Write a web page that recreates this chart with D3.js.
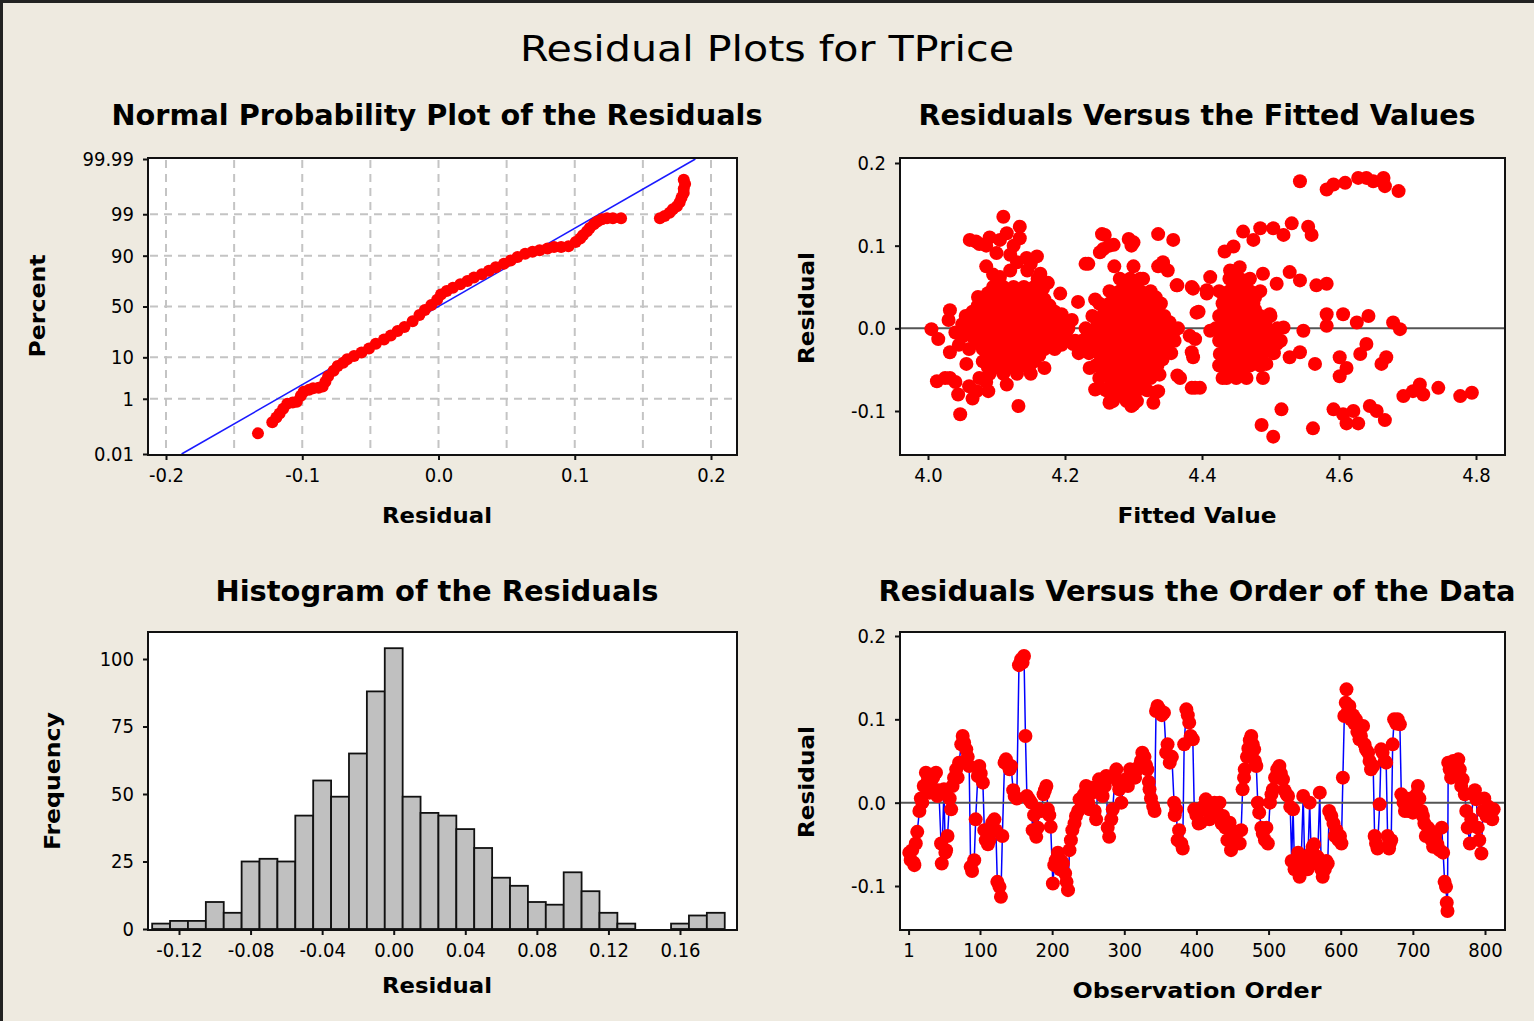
<!DOCTYPE html>
<html>
<head>
<meta charset="utf-8">
<script src="https://cdn.jsdelivr.net/npm/d3@7"></script>
<style>
  body { margin: 0; background: #EEEAE0; }
  svg { display: block; }
  text { font-family: "DejaVu Sans Condensed", "DejaVu Sans", Tahoma, sans-serif; fill: #000; }
</style>
</head>
<body>
<div id="chart"></div>
<script>
// data

// normal probability plot: residual, percent
let probResidual = [-0.1325, -0.122, -0.119, -0.1166, -0.114, -0.111, -0.107, -0.104, -0.101, -0.099, -0.095, -0.092, -0.088, -0.085, -0.083, -0.081, -0.077, -0.074, -0.070, -0.067, -0.062, -0.0565, -0.051, -0.046, -0.040, -0.035, -0.030, -0.025, -0.019, -0.014, -0.010, -0.0053, -0.001, 0.0018, 0.006, 0.0106, 0.016, 0.0212, 0.026, 0.0318, 0.037, 0.042, 0.048, 0.053, 0.058, 0.0636, 0.069, 0.0742, 0.080, 0.0848, 0.090, 0.0954, 0.1007, 0.104, 0.106, 0.109, 0.111, 0.114, 0.1166, 0.120, 0.1237, 0.128, 0.134, 0.1625, 0.166, 0.1696, 0.172, 0.175, 0.177, 0.1784, 0.180, 0.180, 0.181, 0.180];
let probPercent = [0.069, 0.175, 0.256, 0.347, 0.494, 0.714, 0.776, 0.82, 1.22, 1.58, 1.79, 1.97, 2.02, 2.17, 2.87, 3.92, 5.26, 6.68, 7.78, 9.18, 10.6, 12.3, 14.5, 17.4, 20.3, 23.3, 26.8, 30.3, 35.6, 41.5, 46.4, 51.6, 56.7, 61.8, 65.2, 68.1, 71.2, 73.9, 76.7, 79.2, 81.6, 83.9, 86.0, 87.7, 89.4, 90.8, 91.6, 92.2, 92.8, 93.3, 93.3, 93.6, 94.8, 95.7, 96.4, 97.1, 97.6, 98.1, 98.4, 98.6, 98.7, 98.7, 98.7, 98.7, 98.87, 99.09, 99.29, 99.43, 99.57, 99.70, 99.79, 99.85, 99.90, 99.93];
let fitMean = 0.0, fitSigma = 0.0507;
let probTicks = [0.01, 1, 10, 50, 90, 99, 99.99];
let probTickLabels = ["0.01", "1", "10", "50", "90", "99", "99.99"];
let probGridPct = [1, 10, 50, 90, 99];
let probGridRes = [-0.2, -0.15, -0.1, -0.05, 0.0, 0.05, 0.1, 0.15, 0.2];
let probXTicks = [-0.2, -0.1, 0.0, 0.1, 0.2];

// residuals versus fitted values: [fitted, residual]
let fittedPoints = [
  [4.005,-0.001],[4.015,-0.013],[4.032,0.022],[4.032,-0.029],[4.013,-0.064],[4.032,-0.060],[4.044,-0.080],[4.047,-0.104],
  [4.056,-0.043],[4.071,-0.076],[4.061,0.107],[4.073,0.038],[4.088,-0.076],[4.105,0.107],[4.110,0.135],[4.134,0.123],
  [4.134,0.109],[4.100,0.091],[4.120,0.089],[4.144,0.085],[4.159,0.087],[4.164,0.066],[4.168,0.048],[4.105,0.062],
  [4.115,-0.068],[4.132,-0.094],[4.170,-0.048],[4.193,0.042],[4.219,0.032],[4.195,0.017],[4.202,-0.011],[4.212,-0.019],
  [4.227,-0.019],[4.234,0.078],[4.258,0.113],[4.271,0.101],[4.256,0.096],[4.300,0.104],[4.336,0.114],[4.358,0.107],
  [4.343,0.078],[4.363,0.052],[4.387,0.048],[4.395,0.020],[4.407,0.046],[4.390,-0.013],[4.387,-0.035],[4.368,-0.060],
  [4.390,-0.072],[4.336,-0.076],[4.338,-0.056],[4.300,-0.092],[4.266,-0.088],[4.251,-0.072],[4.236,-0.048],
  [4.075,0.102],[4.090,0.110],[4.125,0.100],[4.145,0.070],[4.085,0.075],
  [4.07,0.105],[4.085,0.100],[4.115,0.115],[4.13,0.080],[4.15,0.078],[4.16,0.060],[4.175,0.055],[4.12,0.070],[4.095,0.065],
  // left cluster
  [4.095,0.05],[4.11,0.05],[4.125,0.05],[4.14,0.05],[4.155,0.05],
  [4.08,0.035],[4.095,0.035],[4.11,0.035],[4.125,0.035],[4.14,0.035],[4.155,0.035],[4.17,0.035],
  [4.065,0.02],[4.08,0.02],[4.095,0.02],[4.11,0.02],[4.125,0.02],[4.14,0.02],[4.155,0.02],[4.17,0.02],[4.185,0.02],
  [4.05,0.005],[4.065,0.005],[4.08,0.005],[4.095,0.005],[4.11,0.005],[4.125,0.005],[4.14,0.005],[4.155,0.005],[4.17,0.005],[4.185,0.005],[4.2,0.005],
  [4.05,-0.01],[4.065,-0.01],[4.08,-0.01],[4.095,-0.01],[4.11,-0.01],[4.125,-0.01],[4.14,-0.01],[4.155,-0.01],[4.17,-0.01],[4.185,-0.01],[4.2,-0.01],
  [4.06,-0.025],[4.08,-0.025],[4.095,-0.025],[4.11,-0.025],[4.125,-0.025],[4.14,-0.025],[4.155,-0.025],[4.17,-0.025],[4.185,-0.025],
  [4.08,-0.04],[4.095,-0.04],[4.11,-0.04],[4.125,-0.04],[4.14,-0.04],[4.155,-0.04],
  [4.09,-0.055],[4.11,-0.055],[4.13,-0.055],[4.15,-0.055],
  [4.03,0.01],[4.04,-0.005],[4.055,0.015],[4.045,-0.02],[4.025,-0.06],[4.04,-0.065],[4.06,-0.07],[4.075,-0.06],[4.065,-0.085],[4.085,-0.065],
  [4.205,0.0],[4.215,-0.015],[4.22,-0.03],[4.21,0.01],[4.195,-0.02],
  // middle cluster
  [4.23,0.078],[4.254,0.114],[4.265,0.100],[4.251,0.092],[4.297,0.100],[4.293,0.108],[4.343,0.080],[4.350,0.070],
  [4.336,0.075],[4.272,0.075],[4.300,0.075],[4.314,0.060],[4.244,0.035],[4.364,0.052],[4.385,0.050],[4.392,0.019],
  [4.382,-0.009],[4.385,-0.029],[4.364,-0.057],[4.385,-0.072],[4.332,-0.078],[4.329,-0.090],[4.297,-0.094],[4.265,-0.090],[4.244,-0.074],
  [4.28,0.06],[4.295,0.06],[4.31,0.06],
  [4.265,0.045],[4.28,0.045],[4.295,0.045],[4.31,0.045],[4.325,0.045],
  [4.25,0.03],[4.265,0.03],[4.28,0.03],[4.295,0.03],[4.31,0.03],[4.325,0.03],[4.34,0.03],
  [4.24,0.015],[4.255,0.015],[4.27,0.015],[4.285,0.015],[4.30,0.015],[4.315,0.015],[4.33,0.015],[4.345,0.015],
  [4.23,0.0],[4.245,0.0],[4.26,0.0],[4.275,0.0],[4.29,0.0],[4.305,0.0],[4.32,0.0],[4.335,0.0],[4.35,0.0],[4.365,0.0],
  [4.225,-0.015],[4.24,-0.015],[4.255,-0.015],[4.27,-0.015],[4.285,-0.015],[4.30,-0.015],[4.315,-0.015],[4.33,-0.015],[4.345,-0.015],[4.36,-0.015],
  [4.235,-0.03],[4.25,-0.03],[4.265,-0.03],[4.28,-0.03],[4.295,-0.03],[4.31,-0.03],[4.325,-0.03],[4.34,-0.03],[4.355,-0.03],
  [4.245,-0.045],[4.26,-0.045],[4.275,-0.045],[4.29,-0.045],[4.305,-0.045],[4.32,-0.045],[4.335,-0.045],
  [4.25,-0.06],[4.265,-0.06],[4.28,-0.06],[4.295,-0.06],[4.31,-0.06],[4.325,-0.06],
  [4.26,-0.075],[4.275,-0.075],[4.29,-0.075],[4.305,-0.075],[4.32,-0.075],
  [4.27,-0.088],[4.29,-0.088],[4.305,-0.088],
  // right part
  [4.543,0.178],[4.582,0.168],[4.592,0.174],[4.609,0.176],[4.628,0.182],[4.640,0.182],[4.650,0.178],[4.665,0.182],
  [4.667,0.172],[4.687,0.166],[4.433,0.093],[4.446,0.099],[4.460,0.117],[4.475,0.107],[4.485,0.121],[4.504,0.121],
  [4.519,0.113],[4.531,0.127],[4.555,0.123],[4.560,0.113],[4.412,0.062],[4.407,0.042],[4.441,0.070],[4.455,0.074],
  [4.465,0.058],[4.446,0.046],[4.489,0.066],[4.509,0.054],[4.528,0.068],[4.543,0.058],[4.567,0.052],[4.582,0.054],
  [4.436,0.030],[4.475,0.022],[4.499,0.017],[4.412,-0.003],[4.431,-0.011],[4.451,0.001],[4.470,-0.003],[4.489,-0.007],
  [4.519,0.001],[4.548,-0.003],[4.426,-0.031],[4.446,-0.035],[4.465,-0.027],[4.485,-0.039],[4.509,-0.019],[4.528,-0.035],
  [4.543,-0.029],[4.436,-0.060],[4.455,-0.052],[4.489,-0.060],[4.494,-0.043],[4.397,-0.072],[4.582,0.017],[4.606,0.017],
  [4.626,0.007],[4.643,0.015],[4.582,0.003],[4.679,0.007],[4.689,-0.001],[4.640,-0.019],[4.631,-0.031],[4.601,-0.035],
  [4.611,-0.048],[4.601,-0.058],[4.565,-0.043],[4.669,-0.035],[4.662,-0.043],[4.694,-0.082],[4.708,-0.076],[4.718,-0.068],
  [4.723,-0.080],[4.745,-0.072],[4.777,-0.082],[4.794,-0.078],[4.516,-0.098],[4.487,-0.117],[4.504,-0.131],[4.562,-0.121],
  [4.592,-0.098],[4.606,-0.104],[4.621,-0.100],[4.611,-0.115],[4.628,-0.115],[4.645,-0.094],[4.655,-0.100],[4.667,-0.111],
  [4.44,0.06],[4.455,0.06],[4.47,0.06],
  [4.425,0.045],[4.44,0.045],[4.455,0.045],[4.47,0.045],[4.485,0.045],
  [4.43,0.03],[4.445,0.03],[4.46,0.03],[4.475,0.03],
  [4.425,0.015],[4.44,0.015],[4.455,0.015],[4.47,0.015],[4.485,0.015],[4.5,0.015],
  [4.42,0.0],[4.435,0.0],[4.45,0.0],[4.465,0.0],[4.48,0.0],[4.495,0.0],[4.51,0.0],
  [4.425,-0.015],[4.44,-0.015],[4.455,-0.015],[4.47,-0.015],[4.485,-0.015],[4.5,-0.015],[4.515,-0.015],
  [4.43,-0.03],[4.445,-0.03],[4.46,-0.03],[4.475,-0.03],[4.49,-0.03],[4.505,-0.03],
  [4.425,-0.045],[4.44,-0.045],[4.455,-0.045],[4.47,-0.045],[4.485,-0.045],
  [4.43,-0.06],[4.45,-0.06],[4.465,-0.06]
];
// extra points inside the three solid masses: [fitted, residual]
let fittedCore = [
  [4.0875,0.0425],[4.1025,0.0425],[4.1175,0.0425],[4.1325,0.0425],[4.1475,0.0425],[4.1625,0.0425],
  [4.0725,0.0275],[4.0875,0.0275],[4.1025,0.0275],[4.1175,0.0275],[4.1325,0.0275],[4.1475,0.0275],[4.1625,0.0275],[4.1775,0.0275],
  [4.0575,0.0125],[4.0725,0.0125],[4.0875,0.0125],[4.1025,0.0125],[4.1175,0.0125],[4.1325,0.0125],[4.1475,0.0125],[4.1625,0.0125],[4.1775,0.0125],[4.1925,0.0125],
  [4.0575,-0.0025],[4.0725,-0.0025],[4.0875,-0.0025],[4.1025,-0.0025],[4.1175,-0.0025],[4.1325,-0.0025],[4.1475,-0.0025],[4.1625,-0.0025],[4.1775,-0.0025],[4.1925,-0.0025],
  [4.0725,-0.0175],[4.0875,-0.0175],[4.1025,-0.0175],[4.1175,-0.0175],[4.1325,-0.0175],[4.1475,-0.0175],[4.1625,-0.0175],[4.1775,-0.0175],
  [4.0875,-0.0325],[4.1025,-0.0325],[4.1175,-0.0325],[4.1325,-0.0325],[4.1475,-0.0325],[4.1625,-0.0325],
  [4.0875,-0.0475],[4.1025,-0.0475],[4.1175,-0.0475],[4.1325,-0.0475],[4.1475,-0.0475],
  [4.2875,0.0525],[4.3025,0.0525],
  [4.2725,0.0375],[4.2875,0.0375],[4.3025,0.0375],[4.3175,0.0375],[4.3325,0.0375],
  [4.2575,0.0225],[4.2725,0.0225],[4.2875,0.0225],[4.3025,0.0225],[4.3175,0.0225],[4.3325,0.0225],
  [4.2475,0.0075],[4.2625,0.0075],[4.2775,0.0075],[4.2925,0.0075],[4.3075,0.0075],[4.3225,0.0075],[4.3375,0.0075],[4.3525,0.0075],
  [4.2375,-0.0075],[4.2525,-0.0075],[4.2675,-0.0075],[4.2825,-0.0075],[4.2975,-0.0075],[4.3125,-0.0075],[4.3275,-0.0075],[4.3425,-0.0075],[4.3575,-0.0075],
  [4.2425,-0.0225],[4.2575,-0.0225],[4.2725,-0.0225],[4.2875,-0.0225],[4.3025,-0.0225],[4.3175,-0.0225],[4.3325,-0.0225],[4.3475,-0.0225],
  [4.2525,-0.0375],[4.2675,-0.0375],[4.2825,-0.0375],[4.2975,-0.0375],[4.3125,-0.0375],[4.3275,-0.0375],[4.3425,-0.0375],
  [4.2575,-0.0525],[4.2725,-0.0525],[4.2875,-0.0525],[4.3025,-0.0525],[4.3175,-0.0525],[4.3325,-0.0525],
  [4.2675,-0.0675],[4.2825,-0.0675],[4.2975,-0.0675],[4.3125,-0.0675],
  [4.28,-0.0815],[4.2975,-0.0815],
  [4.4475,0.0525],[4.4625,0.0525],
  [4.4325,0.0375],[4.4475,0.0375],[4.4625,0.0375],[4.4775,0.0375],
  [4.4325,0.0225],[4.4475,0.0225],[4.4625,0.0225],[4.4775,0.0225],
  [4.4325,0.0075],[4.4475,0.0075],[4.4625,0.0075],[4.4775,0.0075],[4.4925,0.0075],
  [4.4275,-0.0075],[4.4425,-0.0075],[4.4575,-0.0075],[4.4725,-0.0075],[4.4875,-0.0075],[4.5025,-0.0075],
  [4.4375,-0.0225],[4.4525,-0.0225],[4.4675,-0.0225],[4.4825,-0.0225],[4.4975,-0.0225],
  [4.4325,-0.0375],[4.4475,-0.0375],[4.4625,-0.0375],[4.4775,-0.0375],
  [4.4375,-0.0525],[4.4575,-0.0525]
];
let fittedXTicks = [4.0, 4.2, 4.4, 4.6, 4.8];
let residTicks = [-0.1, 0.0, 0.1, 0.2];

// histogram of the residuals: bin centres and counts
let binCentres = [-0.13, -0.12, -0.11, -0.10, -0.09, -0.08, -0.07, -0.06, -0.05, -0.04, -0.03, -0.02, -0.01, 0.00, 0.01, 0.02, 0.03, 0.04, 0.05, 0.06, 0.07, 0.08, 0.09, 0.10, 0.11, 0.12, 0.13, 0.14, 0.15, 0.16, 0.17, 0.18];
let binCounts = [2, 3, 3, 10, 6, 25, 26, 25, 42, 55, 49, 65, 88, 104, 49, 43, 42, 37, 30, 19, 16, 10, 9, 21, 14, 6, 2, 0, 0, 2, 5, 6];
let binWidth = 0.01;
let histXTicks = [-0.12, -0.08, -0.04, 0.00, 0.04, 0.08, 0.12, 0.16];
let histYTicks = [0, 25, 50, 75, 100];

// residuals versus order: [observation, residual]
let orderPoints = [
  [2,-0.060],[4,-0.069],[6,-0.057],[8,-0.072],[9,-0.075],[11,-0.049],[13,-0.035],[16,-0.010],[18,0.005],[20,0],
  [22,0.020],[25,0.036],[28,0.028],[30,0.012],[32,0.020],[35,0.030],[39,0.036],[41,0.008],[43,0.015],[46,-0.049],
  [47,-0.073],[50,0.016],[52,-0.060],[53,-0.057],[55,-0.040],[58,0.005],[60,-0.008],[62,0.020],[64,0.030],[67,0.040],
  [69,0.030],[71,0.048],[74,0.070],[76,0.080],[78,0.072],[81,0.064],[83,0.055],[85,0.044],[87,-0.077],[89,-0.082],
  [92,-0.069],[94,-0.020],[97,0.032],[99,0.044],[101,0.035],[104,0.024],[106,-0.033],[108,-0.045],[111,-0.050],[113,-0.045],
  [115,-0.030],[117,-0.024],[120,-0.020],[122,-0.033],[124,-0.095],[127,-0.101],[129,-0.113],[131,-0.040],[134,0.048],[136,0.052],
  [139,0.045],[141,0.040],[143,0.044],[146,0.015],[148,0.008],[151,0.005],[154,0.165],[157,0.172],[159,0.168],[161,0.176],
  [163,0.080],[165,0.008],[168,0.004],[171,0],[173,-0.033],[175,-0.015],[178,-0.041],[180,-0.030],[182,-0.008],[185,-0.010],
  [188,0.010],[190,0.015],[192,0.020],[194,-0.008],[196,-0.015],[198,-0.029],[201,-0.097],[203,-0.075],[205,-0.069],[208,-0.060],
  [211,-0.080],[213,-0.070],[215,-0.073],[218,-0.085],[220,-0.095],[222,-0.105],[224,-0.057],[226,-0.045],[228,-0.033],[231,-0.025],
  [233,-0.016],[236,-0.010],[238,0.004],[241,-0.005],[244,0.010],[247,0.020],[250,0.000],[252,-0.008],[254,0.018],[256,0.012],
  [259,-0.010],[261,-0.020],[263,0.015],[265,0.028],[268,0.020],[270,0.008],[273,0.020],[275,0.032],[277,-0.030],[279,-0.041],
  [282,-0.020],[284,-0.008],[287,0.030],[289,0.040],[291,0.025],[293,0.016],[296,0.000],[299,0.025],[302,0.028],[305,0.020],
  [308,0.040],[312,0.036],[315,0.030],[318,0.040],[321,0.044],[323,0.050],[325,0.060],[328,0.055],[330,0.045],[332,0.040],
  [334,0.025],[335,0.016],[337,0.005],[340,-0.004],[342,-0.010],[344,0.110],[346,0.116],[349,0.112],[352,0.105],[355,0.108],
  [358,0.060],[360,0.070],[363,0.048],[366,0.055],[369,0],[370,-0.015],[372,-0.008],[374,-0.045],[376,-0.033],[379,-0.049],
  [381,-0.055],[383,0.070],[386,0.112],[388,0.105],[390,0.096],[392,0.080],[395,0.076],[397,-0.008],[400,-0.015],[403,-0.025],
  [406,-0.024],[409,-0.005],[413,0.004],[416,-0.010],[418,-0.020],[421,-0.015],[425,0.000],[428,-0.010],[432,0],[435,-0.025],
  [437,-0.016],[440,-0.030],[443,-0.045],[446,-0.024],[448,-0.057],[451,-0.040],[454,-0.045],[457,-0.035],[460,-0.049],[462,-0.033],
  [464,0.016],[466,0.030],[467,0.040],[470,0.055],[472,0.065],[474,0.075],[476,0.080],[478,0.070],[480,0.064],[481,0.050],
  [483,0.044],[485,0.000],[487,-0.012],[490,-0.030],[492,-0.037],[495,-0.045],[497,-0.030],[499,-0.049],[502,0.000],[504,0.010],
  [506,0.016],[509,0.030],[512,0.040],[515,0.044],[517,0.035],[520,0.028],[522,0.015],[525,0.010],[527,0.008],[530,-0.005],
  [532,-0.070],[534,-0.008],[536,-0.080],[538,-0.069],[541,-0.060],[543,-0.089],[545,-0.075],[548,0.008],[550,-0.070],[552,-0.065],
  [554,-0.080],[557,0],[559,-0.060],[561,-0.053],[563,-0.050],[566,-0.073],[568,-0.065],[571,0.012],[573,-0.080],[575,-0.089],
  [578,-0.080],[580,-0.070],[582,-0.073],[584,-0.010],[587,-0.016],[590,-0.025],[592,-0.040],[594,-0.033],[597,-0.045],[599,-0.040],
  [601,-0.049],[603,0.030],[605,0.104],[607,0.120],[608,0.136],[610,0.110],[612,0.116],[614,0.100],[617,0.105],[619,0.095],
  [621,0.100],[623,0.085],[626,0.076],[628,0.080],[631,0.092],[633,0.070],[635,0.064],[638,0.060],[640,0.050],[642,0.040],
  [645,0.044],[647,-0.040],[649,-0.049],[651,-0.055],[654,-0.002],[656,0.064],[658,0.060],[661,0.050],[663,0.048],[665,-0.040],
  [667,-0.055],[668,-0.049],[670,-0.045],[672,0.070],[674,0.100],[677,0.095],[679,0.100],[682,0.094],[684,0.010],[687,0.000],
  [689,-0.010],[691,-0.004],[694,-0.010],[697,0.005],[700,-0.012],[702,-0.005],[705,0.010],[707,0.020],[709,0.005],[712,-0.010],
  [714,-0.016],[716,-0.025],[718,-0.040],[721,-0.030],[723,-0.033],[726,-0.045],[728,-0.053],[731,-0.040],[734,-0.050],[737,-0.057],
  [740,-0.030],[742,-0.060],[744,-0.095],[746,-0.101],[747,-0.120],[748,-0.130],[749,0.048],[751,0.040],[753,0.030],[756,0.050],
  [759,0.045],[761,0.035],[763,0.052],[765,0.040],[767,0.020],[769,0.028],[772,0.010],[774,-0.010],[776,-0.030],[779,-0.049],
  [781,-0.020],[784,0.010],[786,0.015],[788,0.004],[790,-0.030],[792,-0.045],[795,-0.061],[797,-0.010],[799,0.005],[802,-0.016],
  [805,-0.005],[807,-0.010],[810,-0.020],[812,-0.008]
];
let orderXTicks = [1, 100, 200, 300, 400, 500, 600, 700, 800];

// inverse normal cdf (Acklam), used for the percent axis
function probit(p) {
  let a = [-39.69683028665376, 220.9460984245205, -275.9285104469687, 138.3577518672690, -30.66479806614716, 2.506628277459239];
  let b = [-54.47609879822406, 161.5858368580409, -155.6989798598866, 66.80131188771972, -13.28068155288572];
  let c = [-0.007784894002430293, -0.3223964580411365, -2.400758277161838, -2.549732539343734, 4.374664141464968, 2.938163982698783];
  let d = [0.007784695709041462, 0.3224671290700398, 2.445134137142996, 3.754408661907416];
  let pl = 0.02425, q, r;
  if (p < pl) {
    q = Math.sqrt(-2 * Math.log(p));
    return (((((c[0]*q+c[1])*q+c[2])*q+c[3])*q+c[4])*q+c[5]) / ((((d[0]*q+d[1])*q+d[2])*q+d[3])*q+1);
  }
  if (p > 1 - pl) {
    q = Math.sqrt(-2 * Math.log(1 - p));
    return -(((((c[0]*q+c[1])*q+c[2])*q+c[3])*q+c[4])*q+c[5]) / ((((d[0]*q+d[1])*q+d[2])*q+d[3])*q+1);
  }
  q = p - 0.5; r = q * q;
  return (((((a[0]*r+a[1])*r+a[2])*r+a[3])*r+a[4])*r+a[5])*q / (((((b[0]*r+b[1])*r+b[2])*r+b[3])*r+b[4])*r+1);
}

// plain hyphen for negatives, like the original
let fmt1 = d => d.toFixed(1);
let fmt2 = d => d.toFixed(2);

let W = 1534, H = 1021;
let svg = d3.select("#chart").append("svg").attr("width", W).attr("height", H);

svg.append("rect").attr("width", W).attr("height", H).attr("fill", "#EEEAE0");
// dark border on top and left like the screenshot
svg.append("line").attr("x1", 0).attr("x2", W).attr("y1", 1.5).attr("y2", 1.5).attr("stroke", "#222").attr("stroke-width", 3);
svg.append("line").attr("x1", 1.5).attr("x2", 1.5).attr("y1", 0).attr("y2", H).attr("stroke", "#222").attr("stroke-width", 3);

function label(x, y, txt, size, weight, len, rot) {
  let t = svg.append("text")
    .attr("x", x).attr("y", y)
    .attr("text-anchor", "middle")
    .attr("font-size", size)
    .attr("font-weight", weight)
    .text(txt);
  if (len) t.attr("textLength", len).attr("lengthAdjust", "spacingAndGlyphs");
  if (rot) t.attr("transform", "rotate(-90," + x + "," + y + ")");
  return t;
}

function frame(x0, y0, x1, y1) {
  return svg.append("rect")
    .attr("x", x0).attr("y", y0)
    .attr("width", x1 - x0).attr("height", y1 - y0)
    .attr("fill", "white");
}

function frameLine(x0, y0, x1, y1) {
  svg.append("rect")
    .attr("x", x0).attr("y", y0)
    .attr("width", x1 - x0).attr("height", y1 - y0)
    .attr("fill", "none").attr("stroke", "#111").attr("stroke-width", 2);
}

function styleAxis(g) {
  g.select(".domain").remove();
  g.selectAll(".tick line").attr("stroke", "#111").attr("stroke-width", 2);
  g.selectAll(".tick text").attr("font-size", 20).attr("fill", "#000")
    .style("font-family", "'DejaVu Sans Condensed','DejaVu Sans',sans-serif");
}

// titles
label(767, 61, "Residual Plots for TPrice", 36, "normal", 494);
label(437, 125, "Normal Probability Plot of the Residuals", 28, "bold", 651);
label(1197, 125, "Residuals Versus the Fitted Values", 28, "bold", 557);
label(437, 601, "Histogram of the Residuals", 28, "bold", 443);
label(1197, 601, "Residuals Versus the Order of the Data", 28, "bold", 637);

// ---------- panel 1: normal probability plot
let p1x = d3.scaleLinear().domain([-0.2, 0.2]).range([166, 711]);
let p1y = d3.scaleLinear().domain([probit(0.0001), probit(0.9999)]).range([454, 159]);

frame(148, 158, 737, 455);
let grid1 = svg.append("g").attr("stroke", "#c4c4c4").attr("stroke-width", 2).attr("stroke-dasharray", "8,6");
grid1.selectAll(".gv").data(probGridRes).enter().append("line")
  .attr("x1", d => p1x(d)).attr("x2", d => p1x(d)).attr("y1", 160).attr("y2", 453);
grid1.selectAll(".gh").data(probGridPct).enter().append("line")
  .attr("x1", 150).attr("x2", 735).attr("y1", d => p1y(probit(d / 100))).attr("y2", d => p1y(probit(d / 100)));

svg.append("line")
  .attr("x1", p1x(fitMean + fitSigma * probit(0.0001))).attr("y1", p1y(probit(0.0001)))
  .attr("x2", p1x(fitMean + fitSigma * probit(0.9999))).attr("y2", p1y(probit(0.9999)))
  .attr("stroke", "#1a1aff").attr("stroke-width", 1.5);

svg.append("g").selectAll("circle").data(d3.range(probResidual.length)).enter().append("circle")
  .attr("cx", i => p1x(probResidual[i]))
  .attr("cy", i => p1y(probit(probPercent[i] / 100)))
  .attr("r", 6).attr("fill", "#ff0000");

frameLine(148, 158, 737, 455);
svg.append("g").attr("transform", "translate(148,0)")
  .call(d3.axisLeft(p1y).tickValues(probTicks.map(d => probit(d / 100))).tickFormat((d, i) => probTickLabels[i]).tickSize(5).tickPadding(9))
  .call(styleAxis);
svg.append("g").attr("transform", "translate(0,455)")
  .call(d3.axisBottom(p1x).tickValues(probXTicks).tickFormat(fmt1).tickSize(5).tickPadding(8))
  .call(styleAxis);
label(437, 523, "Residual", 22, "bold", 110);
label(45, 306, "Percent", 22, "bold", 103, true);

// ---------- panel 2: residuals versus fits
let p2x = d3.scaleLinear().domain([4.0, 4.8]).range([928, 1476]);
let p2y = d3.scaleLinear().domain([-0.1, 0.2]).range([411, 163]);

frame(900, 158, 1505, 455);
svg.append("line").attr("x1", 901).attr("x2", 1504).attr("y1", p2y(0)).attr("y2", p2y(0))
  .attr("stroke", "#555").attr("stroke-width", 2);
svg.append("g").selectAll("circle").data(fittedPoints.concat(fittedCore)).enter().append("circle")
  .attr("cx", d => p2x(d[0])).attr("cy", d => p2y(d[1]))
  .attr("r", 7).attr("fill", "#ff0000");
frameLine(900, 158, 1505, 455);
svg.append("g").attr("transform", "translate(900,0)")
  .call(d3.axisLeft(p2y).tickValues(residTicks).tickFormat(fmt1).tickSize(5).tickPadding(9))
  .call(styleAxis);
svg.append("g").attr("transform", "translate(0,455)")
  .call(d3.axisBottom(p2x).tickValues(fittedXTicks).tickFormat(fmt1).tickSize(5).tickPadding(8))
  .call(styleAxis);
label(1197, 523, "Fitted Value", 22, "bold", 159);
label(814, 308, "Residual", 22, "bold", 112, true);

// ---------- panel 3: histogram
let p3x = d3.scaleLinear().domain([-0.12, 0.16]).range([179, 680]);
let p3y = d3.scaleLinear().domain([0, 100]).range([929, 659]);

frame(148, 632, 737, 930);
svg.append("g").selectAll("rect").data(d3.range(binCentres.length)).enter().append("rect")
  .attr("x", i => p3x(binCentres[i] - binWidth / 2))
  .attr("width", i => p3x(binCentres[i] + binWidth / 2) - p3x(binCentres[i] - binWidth / 2))
  .attr("y", i => p3y(binCounts[i]))
  .attr("height", i => p3y(0) - p3y(binCounts[i]))
  .attr("fill", "#c0c0c0").attr("stroke", "#111").attr("stroke-width", 1.8);
frameLine(148, 632, 737, 930);
svg.append("g").attr("transform", "translate(148,0)")
  .call(d3.axisLeft(p3y).tickValues(histYTicks).tickSize(5).tickPadding(9))
  .call(styleAxis);
svg.append("g").attr("transform", "translate(0,930)")
  .call(d3.axisBottom(p3x).tickValues(histXTicks).tickFormat(fmt2).tickSize(5).tickPadding(8))
  .call(styleAxis);
label(437, 993, "Residual", 22, "bold", 110);
label(60, 781, "Frequency", 22, "bold", 138, true);

// ---------- panel 4: residuals versus order
let p4x = d3.scaleLinear().domain([100, 800]).range([980, 1485]);
let p4y = d3.scaleLinear().domain([-0.1, 0.2]).range([886, 636]);

frame(900, 632, 1505, 930);
svg.append("path").datum(orderPoints)
  .attr("d", d3.line().x(d => p4x(d[0])).y(d => p4y(d[1])))
  .attr("fill", "none").attr("stroke", "#0000ff").attr("stroke-width", 1.5);
svg.append("line").attr("x1", 901).attr("x2", 1504).attr("y1", p4y(0)).attr("y2", p4y(0))
  .attr("stroke", "#555").attr("stroke-width", 2);
svg.append("g").selectAll("circle").data(orderPoints).enter().append("circle")
  .attr("cx", d => p4x(d[0])).attr("cy", d => p4y(d[1]))
  .attr("r", 7).attr("fill", "#ff0000");
frameLine(900, 632, 1505, 930);
svg.append("g").attr("transform", "translate(900,0)")
  .call(d3.axisLeft(p4y).tickValues(residTicks).tickFormat(fmt1).tickSize(5).tickPadding(9))
  .call(styleAxis);
svg.append("g").attr("transform", "translate(0,930)")
  .call(d3.axisBottom(p4x).tickValues(orderXTicks).tickSize(5).tickPadding(8))
  .call(styleAxis);
label(1197, 998, "Observation Order", 22, "bold", 249);
label(814, 782, "Residual", 22, "bold", 112, true);
</script>
</body>
</html>
